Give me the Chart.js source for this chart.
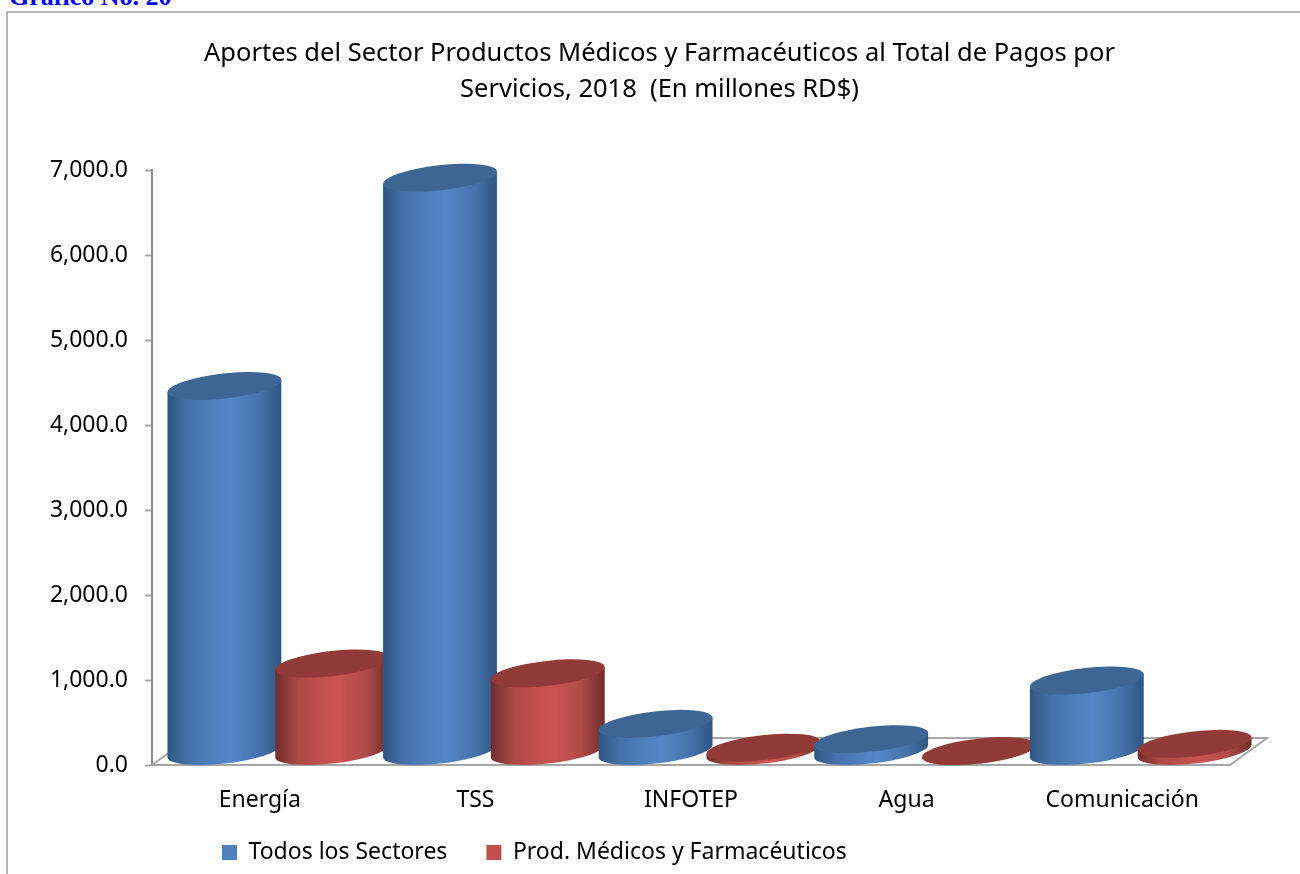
<!DOCTYPE html>
<html>
<head>
<meta charset="utf-8">
<title>Gráfico No. 20</title>
<script src="https://cdn.jsdelivr.net/npm/chart.js@4"></script>
<style>
  html, body { margin: 0; padding: 0; background: #fff; overflow: hidden; }
  #heading { position: absolute; left: 9px; top: -18px; font: bold 26px "Liberation Serif", serif; color: #0000ff; white-space: nowrap; }
  #frame { position: absolute; left: 6px; top: 11px; width: 1400px; height: 1000px; border: 2px solid #b4b4b4; }
  #chart { position: absolute; left: 0; top: 0; }
</style>
</head>
<body>
<div id="heading">Gráfico No. 20</div>
<div id="frame"></div>
<canvas id="chart" width="1300" height="874"></canvas>
<script>
var categories = ['Energía', 'TSS', 'INFOTEP', 'Agua', 'Comunicación'];
var todosLosSectores = [4300, 6750, 325, 145, 835];
var prodMedicos = [1035, 920, 45, 5, 90];
var seriesNames = ['Todos los Sectores', 'Prod. Médicos y Farmacéuticos'];
var titleLines = ['Aportes del Sector Productos Médicos y Farmacéuticos al Total de Pagos por', 'Servicios, 2018  (En millones RD$)'];

var fontName = '"Noto Sans", sans-serif';
var depthX = 18.5, depthY = 13.5; // half of the floor depth, bars stand in the middle of it
var tilt = -6.5 * Math.PI / 180;

// body shading, dark edges and the light band a bit right of the middle
function bodyGradient(ctx, x0, x1, edge, mid, light) {
    var g = ctx.createLinearGradient(x0, 0, x1, 0);
    g.addColorStop(0, edge);
    g.addColorStop(0.2, mid);
    g.addColorStop(0.55, light);
    g.addColorStop(0.8, mid);
    g.addColorStop(1, edge);
    return g;
}

function drawCylinder(ctx, bar, look) {
    var cx = bar.x + depthX;
    var rx = bar.width * 0.54, ry = 12.5;
    var topY = bar.y - depthY, baseY = bar.base - depthY;
    // angle where the tilted ellipse is widest, so the sides meet it cleanly
    var t0 = Math.atan((ry / rx) * Math.tan(-tilt));
    var sideX = rx * Math.cos(t0) * Math.cos(tilt) - ry * Math.sin(t0) * Math.sin(tilt);
    var sideY = rx * Math.cos(t0) * Math.sin(tilt) + ry * Math.sin(t0) * Math.cos(tilt);

    ctx.beginPath();
    ctx.ellipse(cx, baseY, rx, ry, tilt, t0, t0 + Math.PI);
    ctx.lineTo(cx - sideX, topY - sideY);
    ctx.lineTo(cx + sideX, topY + sideY);
    ctx.closePath();
    ctx.fillStyle = bodyGradient(ctx, cx - sideX, cx + sideX, look.edge, look.mid, look.light);
    ctx.fill();

    ctx.beginPath();
    ctx.ellipse(cx, topY, rx, ry, tilt, 0, Math.PI * 2);
    ctx.fillStyle = look.top;
    ctx.fill();
}

var cylinderPlugin = {
    id: 'cylinders',
    afterLayout: function (chart) {
        // title and legend are not centred on the canvas in the original
        chart.titleBlock.left = 89;
        chart.legend.left = 183;
        // legend box overlaps the axis box, let the labels run into it
        chart.scales.x.bottom += 30;
    },
    beforeDatasetsDraw: function (chart) {
        var ctx = chart.ctx, area = chart.chartArea;
        var dx = depthX * 2, dy = depthY * 2;
        // floor outline
        ctx.save();
        ctx.strokeStyle = '#a6a6a6';
        ctx.lineWidth = 2;
        ctx.beginPath();
        ctx.moveTo(area.left, area.bottom);
        ctx.lineTo(area.left + dx, area.bottom - dy);
        ctx.lineTo(area.right + dx, area.bottom - dy);
        ctx.lineTo(area.right, area.bottom);
        ctx.stroke();
        // left to right, each cylinder overlaps the one before it
        categories.forEach(function (c, i) {
            chart.data.datasets.forEach(function (ds, d) {
                drawCylinder(ctx, chart.getDatasetMeta(d).data[i], ds.look);
            });
        });
        ctx.restore();
        return false;
    }
};

new Chart(document.getElementById('chart'), {
    type: 'bar',
    plugins: [cylinderPlugin],
    data: {
        labels: categories,
        datasets: [
            { label: seriesNames[0], data: todosLosSectores, backgroundColor: '#4f81bd',
              look: { edge: '#2f5683', mid: '#4673aa', light: '#5587c9', top: '#3e6694' } },
            { label: seriesNames[1], data: prodMedicos, backgroundColor: '#c0504d',
              look: { edge: '#6f2d2b', mid: '#ae4a47', light: '#cb5451', top: '#923a38' } }
        ]
    },
    options: {
        responsive: false,
        animation: false,
        layout: { padding: { top: 0, right: 70, bottom: 0, left: 0 } },
        datasets: { bar: { categoryPercentage: 1, barPercentage: 0.984 } },
        plugins: {
            tooltip: { enabled: false },
            title: {
                display: true,
                text: titleLines,
                color: '#000',
                font: { family: fontName, size: 25.5, weight: 'normal', lineHeight: 36 / 25.5 },
                padding: { top: 36, bottom: 62 }
            },
            legend: {
                position: 'bottom',
                align: 'start',
                labels: {
                    color: '#000',
                    font: { family: fontName, size: 23 },
                    boxWidth: 15,
                    boxHeight: 15,
                    padding: 39
                }
            }
        },
        scales: {
            x: {
                afterFit: function (s) { s.height = 37; },
                grid: { display: false },
                border: { color: '#a6a6a6', width: 2 },
                ticks: { color: '#000', font: { family: fontName, size: 23 }, padding: 14, maxRotation: 0 }
            },
            y: {
                min: 0,
                max: 7000,
                afterFit: function (s) { s.width = 152; },
                grid: { drawOnChartArea: false, tickLength: 7, tickColor: '#a6a6a6', tickWidth: 2 },
                border: { color: '#8c8c8c', width: 2 },
                ticks: {
                    stepSize: 1000,
                    padding: 17,
                    color: '#000',
                    font: { family: fontName, size: 23 },
                    callback: function (v) { return v.toLocaleString('en-US', { minimumFractionDigits: 1 }); }
                }
            }
        }
    }
});
</script>
</body>
</html>
